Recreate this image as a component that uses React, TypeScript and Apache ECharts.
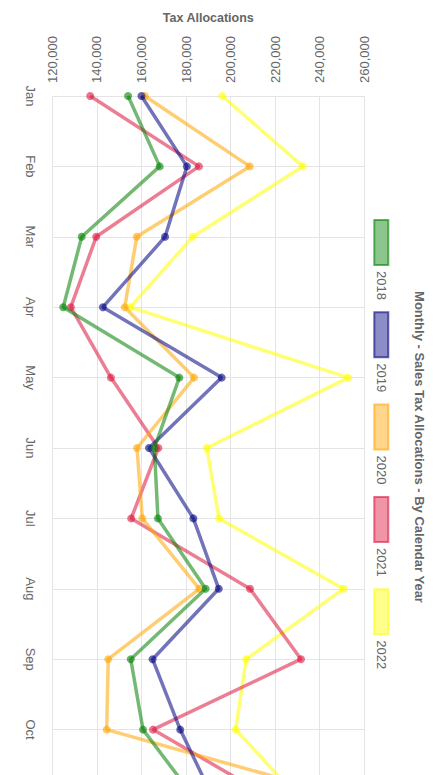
import React, { useEffect, useRef } from "react";
import * as echarts from "echarts";

const months = ["Jan", "Feb", "Mar", "Apr", "May", "Jun", "Jul", "Aug", "Sep", "Oct", "Nov", "Dec"];
const years = ["2018", "2019", "2020", "2021", "2022"];
const colors = ["0,128,0", "0,0,128", "255,165,0", "220,20,60", "255,255,0"];

const v2018 = [154000, 168200, 133200, 124900, 177000, 165800, 167400, 188800, 155200, 160700, 184500, null];
const v2019 = [160000, 180400, 170600, 142700, 196000, 163400, 183300, 194700, 165000, 177400, 192600, null];
const v2020 = [161500, 208600, 157900, 152500, 183600, 158000, 160400, 186000, 145100, 144400, 257000, null];
const v2021 = [137000, 185800, 139700, 128300, 146300, 167600, 155400, 208700, 231600, 165200, 219600, null];
const v2022 = [196300, 232400, 183000, 155000, 252800, 189300, 194800, 250600, 207000, 202300, 231300, null];
const seriesValues = [v2018, v2019, v2020, v2021, v2022];

const valueMin = 120000;
const valueMax = 260000;
const valueStep = 20000;
// months whose labels fall inside the visible (cropped) window
const visibleMonthCount = 10;

const FONT = "'Liberation Sans', Arial, Helvetica, sans-serif";

export default function App() {
  const ref = useRef<HTMLDivElement>(null);

  useEffect(() => {
    if (!ref.current) return;
    const chart = echarts.init(ref.current, undefined, { renderer: "svg" });

    const legendX = 381.3;
    const legendTop = 220;
    const pitch = 92.3;
    const graphics: any[] = [];
    years.forEach((y, i) => {
      const top = legendTop + i * pitch;
      graphics.push({
        type: "rect",
        shape: { x: legendX - 7, y: top, width: 14, height: 45 },
        style: {
          fill: `rgba(${colors[i]},0.45)`,
          stroke: `rgba(${colors[i]},0.6)`,
          lineWidth: 2,
        },
      });
      graphics.push({
        type: "text",
        x: legendX,
        y: top + 51,
        rotation: -Math.PI / 2,
        style: {
          text: y,
          fill: "#666",
          font: `13px ${FONT}`,
          align: "left",
          verticalAlign: "middle",
        },
      });
    });
    graphics.push({
      type: "text",
      x: 419,
      y: 447,
      rotation: -Math.PI / 2,
      style: {
        text: "Monthly - Sales Tax Allocations - By Calendar Year",
        fill: "#666",
        font: `bold 13px ${FONT}`,
        align: "center",
        verticalAlign: "middle",
      },
    });

    chart.setOption({
      animation: false,
      textStyle: { fontFamily: FONT },
      grid: { left: 52.3, right: 68.7, top: 96, bottom: 29.6, containLabel: false },
      xAxis: {
        type: "value",
        position: "top",
        min: valueMin,
        max: valueMax,
        interval: valueStep,
        name: "Tax Allocations",
        nameLocation: "middle",
        nameGap: 72,
        nameTextStyle: { color: "#666", fontSize: 12.5, fontWeight: "bold", fontFamily: FONT },
        axisLine: { show: false },
        axisTick: { show: false },
        splitLine: { show: true, lineStyle: { color: "#e4e4e4", width: 1 } },
        axisLabel: {
          rotate: -90,
          margin: 13,
          color: "#666",
          fontSize: 13,
          fontFamily: FONT,
          formatter: (v: number) => v.toLocaleString("en-US"),
        },
      },
      yAxis: {
        type: "category",
        data: months,
        inverse: true,
        boundaryGap: false,
        axisLine: { show: false },
        axisTick: { show: false },
        splitLine: { show: true, lineStyle: { color: "#e4e4e4", width: 1 } },
        axisLabel: {
          rotate: -90,
          margin: 15,
          color: "#666",
          fontSize: 13,
          fontFamily: FONT,
          interval: (idx: number) => idx < visibleMonthCount,
        },
      },
      series: years.map((y, i) => ({
        name: y,
        type: "line",
        data: seriesValues[i].map((v, j) => [v, months[j]]),
        z: 10 - i,
        symbol: "circle",
        symbolSize: 8,
        lineStyle: { color: `rgba(${colors[i]},0.55)`, width: 3.5 },
        itemStyle: { color: `rgba(${colors[i]},0.6)` },
      })),
      graphic: graphics,
    });

    return () => chart.dispose();
  }, []);

  return (
    <div style={{ position: "fixed", left: 0, top: 0, width: 433, height: 775, overflow: "hidden", background: "#fff" }}>
      <div ref={ref} style={{ width: 433, height: 900 }} />
    </div>
  );
}
